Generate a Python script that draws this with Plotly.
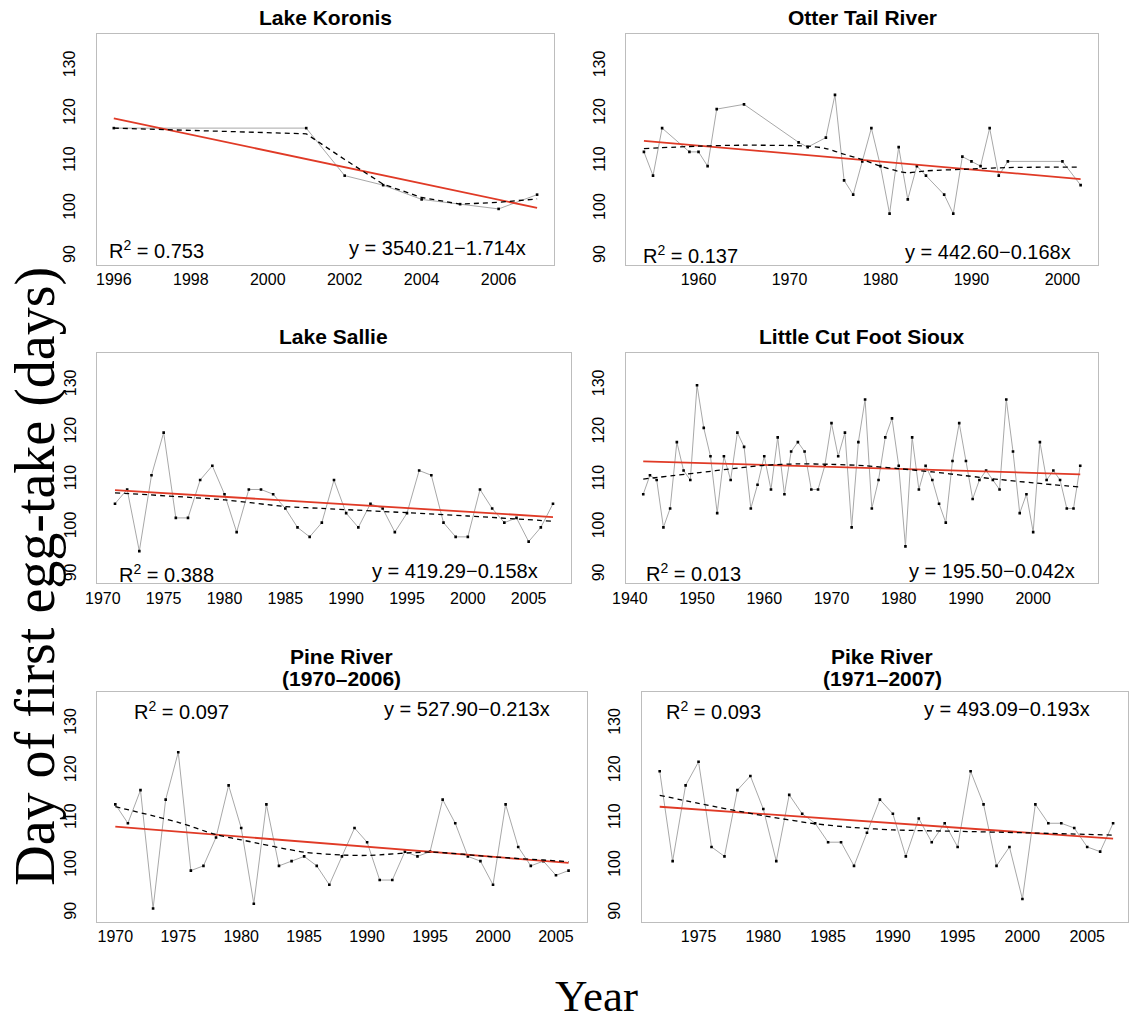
import plotly.graph_objects as go

# ---------------- data: day of first egg-take by year ----------------
koronis_years = [1996, 2001, 2002, 2003, 2004, 2005, 2006, 2007]
koronis_days = [117, 117, 107, 105, 102, 101, 100, 103]
koronis_smooth_years = [1996, 2001, 2002, 2003, 2004, 2005, 2006, 2007]
koronis_smooth_days = [117.0, 115.8, 110.4, 105.2, 102.4, 101.0, 101.4, 102.1]

otter_years = [1954, 1955, 1956, 1959, 1960, 1961, 1962, 1965, 1971, 1972, 1974, 1975,
               1976, 1977, 1978, 1979, 1980, 1981, 1982, 1983, 1984, 1985, 1987, 1988,
               1989, 1990, 1991, 1992, 1993, 1994, 2000, 2002]
otter_days = [112, 107, 117, 112, 112, 109, 121, 122, 114, 113, 115, 124,
              106, 103, 110, 117, 109, 99, 113, 102, 109, 107, 103, 99,
              111, 110, 109, 117, 107, 110, 110, 105]
otter_smooth_years = [1954, 1960, 1965, 1972, 1974, 1976, 1978, 1980, 1982, 1983, 1985,
                      1990, 1994, 2002]
otter_smooth_days = [112.7, 113.2, 113.4, 113.2, 112.7, 111.5, 110.4, 109.0, 107.9, 107.6,
                     108.0, 108.4, 108.7, 108.8]

sallie_years = list(range(1971, 2008))
sallie_days = [105, 108, 95, 111, 120, 102, 102, 110, 113, 107, 99, 108, 108, 107, 104,
               100, 98, 101, 110, 103, 100, 105, 104, 99, 103, 112, 111, 101, 98, 98,
               108, 104, 101, 102, 97, 100, 105]
sallie_smooth_years = [1971, 1980, 1985, 1988, 1995, 2000, 2007]
sallie_smooth_days = [107.3, 105.8, 104.4, 104.0, 103.1, 102.4, 101.3]

lcfs_years = list(range(1942, 2008))
lcfs_days = [107, 111, 110, 100, 104, 118, 112, 110, 130, 121, 115, 103, 115, 110, 120,
             117, 104, 109, 115, 108, 119, 107, 116, 118, 116, 108, 108, 113, 122, 115,
             120, 100, 118, 127, 104, 110, 119, 123, 113, 96, 119, 108, 113, 110, 105,
             101, 114, 122, 114, 106, 110, 112, 110, 108, 127, 116, 103, 107, 99, 118,
             110, 112, 110, 104, 104, 113]
lcfs_smooth_years = [1942, 1950, 1956, 1960, 1965, 1970, 1975, 1980, 1985, 1990, 1995,
                     2000, 2007]
lcfs_smooth_days = [110.2, 111.5, 112.5, 113.1, 113.4, 113.3, 113.0, 112.4, 111.7, 110.9,
                    110.1, 109.4, 108.5]

pine_years = list(range(1970, 2007))
pine_days = [113, 109, 116, 91, 114, 124, 99, 100, 106, 117, 108, 92, 113, 100, 101, 102,
             100, 96, 102, 108, 105, 97, 97, 103, 102, 103, 114, 109, 102, 101, 96, 113,
             104, 100, 101, 98, 99]
pine_smooth_years = [1970, 1975, 1978, 1980, 1985, 1988, 1990, 1995, 2000, 2006]
pine_smooth_days = [112.5, 109.2, 106.6, 105.5, 102.9, 102.3, 102.2, 102.9, 101.9, 100.9]

pike_years = list(range(1972, 2008))
pike_days = [120, 101, 117, 122, 104, 102, 116, 119, 112, 101, 115, 111, 109, 105, 105,
             100, 107, 114, 111, 102, 110, 105, 109, 104, 120, 113, 100, 104, 93, 113,
             109, 109, 108, 104, 103, 109]
pike_smooth_years = [1972, 1975, 1980, 1984, 1987, 1990, 1995, 2000, 2007]
pike_smooth_days = [114.9, 113.2, 110.6, 108.9, 108.1, 107.6, 107.3, 107.0, 106.5]

# linear fits (intercept, slope) and R^2 for each site
fit_intercepts = [3540.21, 442.60, 419.29, 195.50, 527.90, 493.09]
fit_slopes = [-1.714, -0.168, -0.158, -0.042, -0.213, -0.193]
fit_r2 = [0.753, 0.137, 0.388, 0.013, 0.097, 0.093]

site_titles = [["Lake Koronis"], ["Otter Tail River"], ["Lake Sallie"],
               ["Little Cut Foot Sioux"], ["Pine River", "(1970\u20132006)"],
               ["Pike River", "(1971\u20132007)"]]

x_tick_values = [[1996, 1998, 2000, 2002, 2004, 2006],
                 [1960, 1970, 1980, 1990, 2000],
                 [1970, 1975, 1980, 1985, 1990, 1995, 2000, 2005],
                 [1940, 1950, 1960, 1970, 1980, 1990, 2000],
                 [1970, 1975, 1980, 1985, 1990, 1995, 2000, 2005],
                 [1975, 1980, 1985, 1990, 1995, 2000, 2005]]
y_tick_values = [90, 100, 110, 120, 130]

series = [
    (koronis_years, koronis_days, koronis_smooth_years, koronis_smooth_days, "linear"),
    (otter_years, otter_days, otter_smooth_years, otter_smooth_days, "spline"),
    (sallie_years, sallie_days, sallie_smooth_years, sallie_smooth_days, "spline"),
    (lcfs_years, lcfs_days, lcfs_smooth_years, lcfs_smooth_days, "spline"),
    (pine_years, pine_days, pine_smooth_years, pine_smooth_days, "spline"),
    (pike_years, pike_days, pike_smooth_years, pike_smooth_days, "spline"),
]

# ---------------- layout geometry (pixels) ----------------
W, H = 1129, 1022
boxes = [(84, 34, 547.3, 265), (620.7, 34, 1098.7, 265),
         (84.6, 353, 564, 583.3), (620, 353, 1098.3, 583.3),
         (84.3, 691.7, 580.4, 921.7), (636, 691.7, 1129, 921.7)]
x_ranges = [[1995.56, 2007.44], [1952.08, 2003.92], [1969.56, 2008.44],
            [1939.4, 2009.6], [1968.56, 2007.44], [1970.6, 2008.15]]
y_range = [88.2, 136.8]
title_y = [[18], [18], [337], [337], [656, 678], [656, 678]]
title_x = [316, 860, 324, 859, 332, 880]
r2_pos = [(94, 250), (635, 254), (104, 573), (638, 572), (120, 710), (659, 710)]
eq_pos = [(521, 248), (1073, 252), (533, 571), (1077, 571), (545, 709), (1093, 709)]


def fx(p):
    return p / W


def fy(p):
    return 1 - p / H


SANS = "Liberation Sans, Arial, Helvetica, sans-serif"
SERIF = "Liberation Serif, Times New Roman, serif"
GRID_GREY = "#bdbdbd"
RED = "#e03a26"

fig = go.Figure()
annotations = []
layout_axes = {}

for i, (xs, ys, sx, sy, shape) in enumerate(series):
    n = i + 1
    xa = "x" if n == 1 else f"x{n}"
    ya = "y" if n == 1 else f"y{n}"

    # observed series: thin grey line with black points
    fig.add_trace(go.Scatter(x=xs, y=ys, xaxis=xa, yaxis=ya, mode="lines",
                             line=dict(color="#a8a8a8", width=1), hoverinfo="skip",
                             showlegend=False))
    fig.add_trace(go.Scatter(x=xs, y=ys, xaxis=xa, yaxis=ya, mode="markers",
                             marker=dict(color="black", size=2.6, symbol="square"),
                             showlegend=False))

    # fitted linear trend
    a, b = fit_intercepts[i], fit_slopes[i]
    x0, x1 = min(xs), max(xs)
    fig.add_trace(go.Scatter(x=[x0, x1], y=[a + b * x0, a + b * x1], xaxis=xa, yaxis=ya,
                             mode="lines", line=dict(color=RED, width=1.8),
                             showlegend=False))

    # smoothed curve
    fig.add_trace(go.Scatter(x=sx, y=sy, xaxis=xa, yaxis=ya, mode="lines",
                             line=dict(color="black", width=1.3, dash="5px,4px",
                                       shape=shape, smoothing=0.8),
                             showlegend=False))

    left, top, right, bottom = boxes[i]
    axis_common = dict(showline=True, mirror=True, linecolor=GRID_GREY, linewidth=1,
                       showgrid=False, zeroline=False, ticks="",
                       tickfont=dict(family=SANS, size=16, color="black"))
    layout_axes["xaxis" if n == 1 else f"xaxis{n}"] = dict(
        domain=[fx(left), fx(right)], range=x_ranges[i], anchor=ya,
        tickvals=x_tick_values[i], **axis_common)
    layout_axes["yaxis" if n == 1 else f"yaxis{n}"] = dict(
        domain=[fy(bottom), fy(top)], range=y_range, anchor=xa,
        tickvals=y_tick_values, tickangle=-90, ticklabelstandoff=14, **axis_common)

    # titles
    for line, ty in zip(site_titles[i], title_y[i]):
        annotations.append(dict(text=f"<b>{line}</b>", x=fx(title_x[i]), y=fy(ty),
                                xref="paper", yref="paper", showarrow=False,
                                xanchor="center", yanchor="middle",
                                font=dict(family=SANS, size=21, color="black")))

    # statistics
    rx, ry = r2_pos[i]
    annotations.append(dict(text=f"R<sup>2</sup> = {fit_r2[i]:.3f}", x=fx(rx), y=fy(ry),
                            xref="paper", yref="paper", showarrow=False,
                            xanchor="left", yanchor="middle",
                            font=dict(family=SANS, size=20, color="black")))
    ex, ey = eq_pos[i]
    sign = "\u2212" if b < 0 else "+"
    annotations.append(dict(text=f"y = {a:.2f}{sign}{abs(b):.3f}x", x=fx(ex), y=fy(ey),
                            xref="paper", yref="paper", showarrow=False,
                            xanchor="right", yanchor="middle",
                            font=dict(family=SANS, size=20, color="black")))

# shared axis titles
annotations.append(dict(text="Year", x=fx(590), y=fy(996), xref="paper", yref="paper",
                        showarrow=False, xanchor="center", yanchor="middle",
                        font=dict(family=SERIF, size=45, color="black")))
annotations.append(dict(text="Day of first egg-take (days)", x=fx(21), y=fy(576),
                        xref="paper", yref="paper", showarrow=False, textangle=-90,
                        xanchor="center", yanchor="middle",
                        font=dict(family=SERIF, size=56, color="black")))

fig.update_layout(width=W, height=H, margin=dict(l=0, r=0, t=0, b=0),
                  paper_bgcolor="white", plot_bgcolor="white",
                  annotations=annotations, **layout_axes)

fig.write_html("out.html")
